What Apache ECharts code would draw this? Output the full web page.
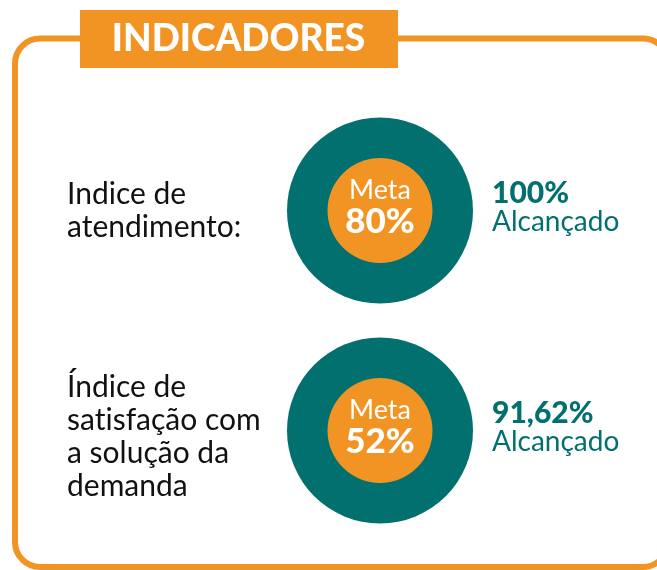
<!DOCTYPE html>
<html>
<head>
<meta charset="utf-8">
<script src="https://cdn.jsdelivr.net/npm/echarts@6/dist/echarts.min.js"></script>
<style>
  html, body { margin: 0; padding: 0; background: #fff; }
  #chart { width: 657px; height: 570px; }
</style>
</head>
<body>
<div id="chart"></div>
<script>
// dados dos indicadores (\u200C evita a ligadura "ti" da fonte)
const indicadores = ['Indice de\natendimento:', 'Índice de\nsat\u200Cisfação com\na solução da\ndemanda'];
const metas = [80, 52];
const alcancados = ['100%', '91,62%'];

const LARANJA = '#f29423';
const VERDE = '#01706f';
const FONTE = 'Lato, "Noto Sans", sans-serif';

const centrosY = [210.5, 430.5];

const getOption = () => {
  const series = [];
  metas.forEach((meta, i) => {
    // circulo externo (alcançado)
    series.push({
      type: 'pie',
      silent: true,
      animation: false,
      center: [380, centrosY[i]],
      radius: [0, 93],
      label: { show: false },
      itemStyle: { color: VERDE },
      data: [{ value: 1, name: alcancados[i] }]
    });
    // circulo interno (meta)
    series.push({
      type: 'pie',
      silent: true,
      animation: false,
      center: [380, centrosY[i]],
      radius: [0, 52.5],
      itemStyle: { color: LARANJA },
      label: {
        show: true,
        position: 'center',
        formatter: () => '{m|Meta}\n{v|' + meta + '%}',
        padding: [0, 0, 9, 0],
        rich: {
          m: { fontFamily: FONTE, fontSize: 27, color: '#fff', lineHeight: 31 },
          v: { fontFamily: FONTE, fontSize: 35, fontWeight: 900, color: '#fff', lineHeight: 31 }
        }
      },
      data: [{ value: meta, name: 'Meta' }]
    });
  });

  const textos = [];
  indicadores.forEach((txt, i) => {
    const cy = i === 0 ? 211 : 437;
    textos.push({
      type: 'text',
      x: 67, y: cy,
      style: {
        text: txt, fill: '#111', font: '30px ' + FONTE,
        lineHeight: 33, textAlign: 'left', textVerticalAlign: 'middle'
      }
    });
    textos.push({
      type: 'text',
      x: 492, y: centrosY[i] - 17,
      style: {
        text: alcancados[i], fill: VERDE, font: '900 30px ' + FONTE,
        textAlign: 'left', textVerticalAlign: 'middle'
      }
    });
    textos.push({
      type: 'text',
      x: 492, y: centrosY[i] + 11,
      style: {
        text: 'Alcançado', fill: VERDE, font: '28px ' + FONTE,
        textAlign: 'left', textVerticalAlign: 'middle'
      }
    });
  });

  return {
    backgroundColor: '#fff',
    series: series,
    graphic: [
      {
        type: 'rect', z: 1,
        shape: { x: 15, y: 38.5, width: 653, height: 528.5, r: 25 },
        style: { fill: 'none', stroke: LARANJA, lineWidth: 6 }
      },
      {
        type: 'rect', z: 2,
        shape: { x: 80, y: 10, width: 318, height: 58 },
        style: { fill: LARANJA }
      },
      {
        type: 'text', z: 3,
        x: 238.5, y: 39,
        style: {
          text: 'INDICADORES', fill: '#fff', font: '900 37px ' + FONTE,
          textAlign: 'center', textVerticalAlign: 'middle'
        }
      },
      ...textos
    ]
  };
};

const chart = echarts.init(document.getElementById('chart'));
chart.setOption(getOption());
</script>
</body>
</html>
